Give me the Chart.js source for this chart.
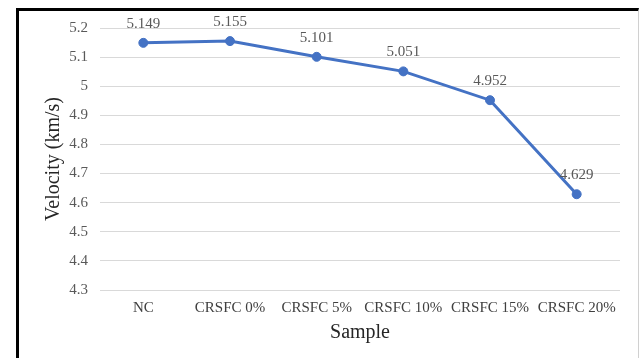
<!DOCTYPE html>
<html lang="en">
<head>
  <meta charset="UTF-8">
  <title>Velocity by Sample</title>
  <script src="https://cdn.jsdelivr.net/npm/chart.js"></script>
  <style>
    body {
      margin: 0;
      background: #fff;
      font-family: "Liberation Serif", serif;
    }
    .frame {
      position: absolute;
      left: 16px;
      top: 8px;
      width: 619px;
      height: 360px;
      border-left: 3px solid #000;
      border-top: 3px solid #000;
      border-right: 1px solid #d0d0d0;
    }
    .wrap {
      position: absolute;
      left: 0;
      top: 0;
      width: 640px;
      height: 358px;
    }
  </style>
</head>
<body>
  <div class="frame"></div>
  <div class="wrap"><canvas id="chart"></canvas></div>

  <script>
    // data
    const samples = ['NC', 'CRSFC 0%', 'CRSFC 5%', 'CRSFC 10%', 'CRSFC 15%', 'CRSFC 20%'];
    const velocity = [5.149, 5.155, 5.101, 5.051, 4.952, 4.629];

    // value labels above each point
    const pointLabels = {
      id: 'pointLabels',
      afterDatasetsDraw(chart) {
        const ctx = chart.ctx;
        const meta = chart.getDatasetMeta(0);
        ctx.save();
        ctx.font = '15px "Liberation Serif"';
        ctx.fillStyle = '#595959';
        ctx.textAlign = 'center';
        ctx.textBaseline = 'middle';
        meta.data.forEach((pt, i) => {
          ctx.fillText(velocity[i].toFixed(3), pt.x, pt.y - 19);
        });
        ctx.restore();
      }
    };

    new Chart(document.getElementById('chart'), {
      type: 'line',
      data: {
        labels: samples,
        datasets: [{
          data: velocity,
          borderColor: '#4472C4',
          backgroundColor: '#4472C4',
          borderWidth: 3,
          pointRadius: 4.5,
          pointBorderWidth: 1,
          pointHoverRadius: 4.5,
          tension: 0
        }]
      },
      options: {
        responsive: true,
        maintainAspectRatio: false,
        animation: false,
        layout: { padding: { left: 42, right: 20, top: 28, bottom: 0 } },
        plugins: {
          legend: { display: false },
          tooltip: { enabled: false }
        },
        scales: {
          x: {
            offset: true,
            afterFit: s => { s.height = 68; },
            grid: { display: false, drawTicks: false },
            border: { display: false },
            ticks: {
              color: '#404040',
              font: { family: 'Liberation Serif', size: 15 },
              padding: 9,
              maxRotation: 0,
              autoSkip: false
            },
            title: {
              display: true,
              text: 'Sample',
              color: '#262626',
              font: { family: 'Liberation Serif', size: 20 },
              padding: { top: 0, bottom: 13 }
            }
          },
          y: {
            min: 4.3,
            max: 5.2,
            afterFit: s => { s.width = 58; },
            grid: { color: '#d9d9d9', lineWidth: 1, drawTicks: false },
            border: { display: false },
            ticks: {
              stepSize: 0.1,
              color: '#595959',
              font: { family: 'Liberation Serif', size: 15 },
              padding: 12,
              callback: v => parseFloat(v.toFixed(1)).toString()
            },
            title: {
              display: true,
              text: 'Velocity (km/s)',
              color: '#262626',
              font: { family: 'Liberation Serif', size: 20 },
              padding: { top: 0, bottom: 0 }
            }
          }
        }
      },
      plugins: [pointLabels]
    });
  </script>
</body>
</html>
